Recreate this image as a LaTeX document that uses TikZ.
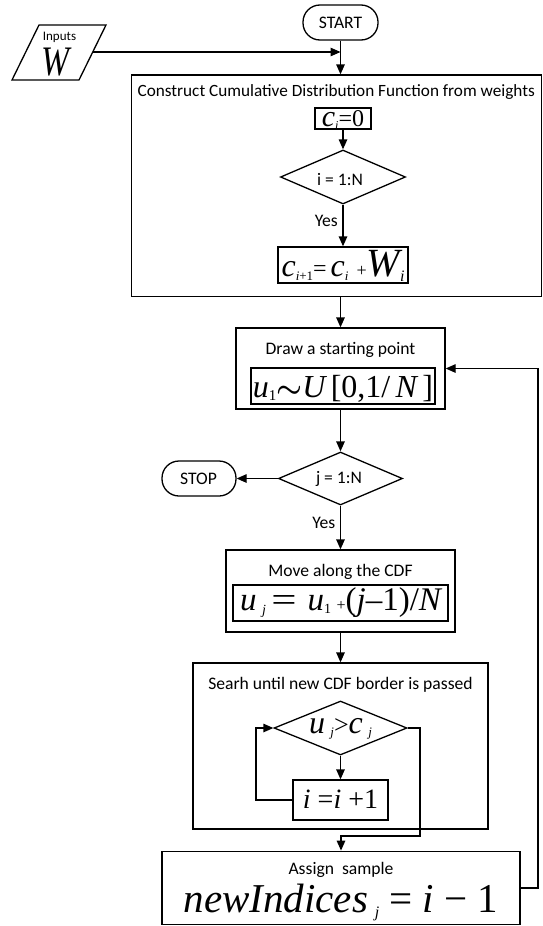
\documentclass[tikz,border=0pt]{standalone}
\usepackage{graphicx}
\usepackage{fontspec}
\setmainfont{Carlito}
\newfontfamily\tms{Liberation Serif}
\usetikzlibrary{shapes.geometric,arrows.meta}
\newcommand\fs[1]{\fontsize{#1}{#1}\selectfont}
% lowered small text for indices: shift, size, content
\newcommand\sbx[3]{\raisebox{-#1pt}{\fs{#2}#3}}
% wide equals sign kept at the height of the surrounding letters
\newcommand\weq[2]{\smash{\raisebox{-#2pt}{\scalebox{1.6}[1.25]{\fs{#1}\upshape=}}}}

\begin{document}
\begin{tikzpicture}[x=1pt,y=-1pt,
  line width=1.3pt,
  box/.style={draw, rectangle, inner sep=0pt, line width=1.3pt},
  term/.style={draw, rectangle, rounded corners=17pt, inner sep=0pt,
    minimum width=#1, minimum height=35pt, line width=1.3pt},
  dec/.style={draw, diamond, inner sep=0pt, line width=1.3pt},
  lbl/.style={inner sep=0pt, anchor=base, font=\fs{17.6}},
  fml/.style={inner sep=0pt, anchor=base, font=\tms},
  arr/.style={-{Triangle[length=10pt,width=8.5pt]}, line width=1.3pt},
  ln/.style={line width=1.3pt}
]
\useasboundingbox (0,0) rectangle (543,926);

% input parallelogram
\draw[ln] (39,25) -- (106,25) -- (79,80) -- (12,80) -- cycle;
\coordinate (inpR) at (92.7,52);
\node[lbl, font=\fs{13}] (inpt) at (59.5,40) {Inputs};
\node[fml, font=\tms\itshape\fs{42}] (inpw) at (55,75) {\scalebox{0.8}[1]{W}};

% start terminal
\node[term=75pt] (start) at (340.5,22.5) {};
\node[lbl] (startt) at (340.5,28.3) {START};

% cumulative distribution block
\node[box, minimum width=410pt, minimum height=221.5pt] (cdf) at (336.5,185.75) {};
\node[lbl, anchor=base west, font=\fs{17.2}] (cdft) at (137,96) {Construct Cumulative Distribution Function from weights};
\draw[arr] (start) -- (start |- cdf.north);
\draw[arr] (inpR) -- (inpR -| start);

\node[box, minimum width=56pt, minimum height=21pt] (ci0) at (343,118.5) {};
\node[fml] (ci0f) at (343,126.7) {\itshape\fs{30}c\sbx{3}{12}{i}\upshape\fs{24}=0};
\node[dec, minimum width=125pt, minimum height=54pt] (di) at (343,177) {};
\node[lbl] (dit) at (340,185) {i = 1:N};
\draw[arr] (ci0) -- (di);
\node[box, minimum width=130pt, minimum height=36pt] (cnext) at (343,265) {};
\node[fml] (cnextf) at (343,276) {\itshape\fs{32}c\sbx{4}{13}{i\upshape+1}\upshape\fs{24}=\,\itshape\fs{32}c\sbx{4}{13}{i}\ \upshape\fs{18}+\itshape\fs{40}W\sbx{5}{16}{i}};
\draw[arr] (di) -- (cnext);
\node[lbl, anchor=base east] (yes1) at (338.5,226) {Yes};

% starting point
\node[box, minimum width=209pt, minimum height=81pt] (drw) at (340.5,368.5) {};
\draw[arr] (drw.north |- cdf.south) -- (drw.north);
\node[lbl] (drwt) at (340.5,354) {Draw a starting point};
\node[box, minimum width=184pt, minimum height=36pt] (u1b) at (343,386) {};
\node[fml] (u1f) at (343,397) {\itshape\fs{32}u\sbx{3}{15}{\upshape 1}{\fs{10}\scalebox{2.9}{\boldmath$\sim$}}\fs{32}U\,\upshape[0,1/\,\itshape N\upshape\,]};

% outer loop test and stop
\node[dec, minimum width=124pt, minimum height=53pt] (dj) at (340.5,478.5) {};
\draw[arr] (drw) -- (dj);
\node[lbl] (djt) at (339,483) {j = 1:N};
\node[term=74pt] (stop) at (199,478.5) {};
\node[lbl] (stopt) at (198.5,484) {STOP};
\draw[arr] (dj) -- (stop);

% move along the CDF
\node[box, minimum width=229pt, minimum height=82pt] (mv) at (340.5,591) {};
\draw[arr] (dj) -- (mv);
\node[lbl, anchor=base east] (yes2) at (336,528) {Yes};
\node[lbl] (mvt) at (340.5,576) {Move along the CDF};
\node[box, minimum width=215pt, minimum height=36pt] (ujb) at (340.5,603) {};
\node[fml] (ujf) at (340.5,610) {\itshape\fs{33}u\,\sbx{4}{14}{j}\,\weq{28}{1}\,\,\itshape u\sbx{3}{14}{\upshape 1}\,\upshape\fs{16}+\fs{33}(\itshape j\upshape–1)/\itshape N};

% search block
\node[box, minimum width=295pt, minimum height=166pt] (srch) at (340.5,746) {};
\draw[arr] (mv) -- (srch);
\node[lbl] (srcht) at (340.5,689) {Searh until new CDF border is passed};
\node[dec, minimum width=133pt, minimum height=54pt] (cmp) at (340.5,728) {};
\node[fml] (cmpf) at (340.5,733) {\itshape\fs{32}u\,\sbx{3}{13}{j}\upshape\fs{26}>\itshape\fs{32}c\,\sbx{3}{13}{j}};
\node[box, minimum width=95pt, minimum height=40pt] (inc) at (340.5,800) {};
\node[fml] (incf) at (340.5,808) {\itshape\fs{28}i\ \upshape=\itshape i\ \upshape+1};
\draw[arr] (cmp) -- (inc);
\coordinate (loopL) at (256,800);
\draw[arr] (inc.west) -- (loopL) |- (cmp.west);

% assign sample
\node[box, minimum width=358pt, minimum height=73.5pt] (asg) at (341,888) {};
\node[lbl] (asgt) at (341,874) {Assign\ \ sample};
\node[fml] (asgf) at (341,912) {\itshape\fs{41}newIndices\,\sbx{5}{16}{j}\ \upshape=\ \itshape i\ \upshape−\ 1};
\coordinate (exitR) at (420,836);
\draw[arr] (cmp.east) -| (exitR) -| (asg.north);
\coordinate (retR) at (538,888);
\draw[arr] (asg.east) -- (retR) |- (drw.east);
\end{tikzpicture}
\end{document}
